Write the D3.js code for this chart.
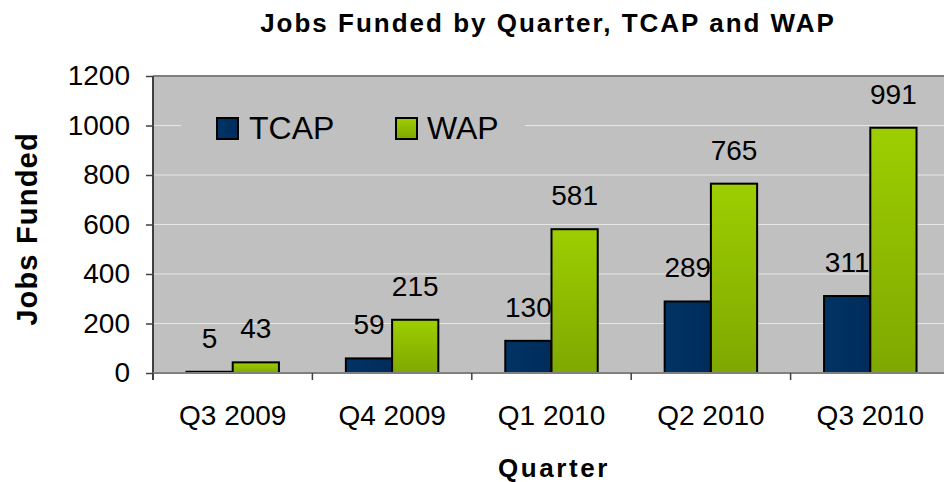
<!DOCTYPE html>
<html>
<head>
<meta charset="utf-8">
<script src="https://cdn.jsdelivr.net/npm/d3@7"></script>
<style>
  html, body { margin: 0; padding: 0; background: #fff; }
  svg { display: block; }
  text { font-family: "Liberation Sans", Arial, Helvetica, sans-serif; fill: #000; }
</style>
</head>
<body>
<svg id="chart" width="944" height="482"></svg>
<script>
const categories = ["Q3 2009", "Q4 2009", "Q1 2010", "Q2 2010", "Q3 2010"];
const seriesNames = ["TCAP", "WAP"];
const tcapValues = [5, 59, 130, 289, 311];
const wapValues = [43, 215, 581, 765, 991];
const yTicks = [0, 200, 400, 600, 800, 1000, 1200];
const titleText = "Jobs Funded by Quarter, TCAP and WAP";
const xTitle = "Quarter";
const yTitle = "Jobs Funded";

const svg = d3.select("#chart");
const plot = { left: 153, right: 950, top: 76, bottom: 373 };

const x0 = d3.scaleBand().domain(categories).range([plot.left, plot.right])
  .paddingInner(0.42).paddingOuter(0.21);
const x1 = d3.scaleBand().domain(seriesNames).range([0, x0.bandwidth()]).padding(0);
const y = d3.scaleLinear().domain([0, 1200]).range([plot.bottom, plot.top]);

const defs = svg.append("defs");
const gW = defs.append("linearGradient").attr("id", "gWAP").attr("x1", 0).attr("y1", 0).attr("x2", 0).attr("y2", 1);
gW.append("stop").attr("offset", "0%").attr("stop-color", "#9dce00");
gW.append("stop").attr("offset", "100%").attr("stop-color", "#7fa800");
const gT = defs.append("linearGradient").attr("id", "gTCAP").attr("x1", 0).attr("y1", 0).attr("x2", 1).attr("y2", 0);
gT.append("stop").attr("offset", "0%").attr("stop-color", "#003466");
gT.append("stop").attr("offset", "100%").attr("stop-color", "#002c5a");
const fills = { TCAP: "url(#gTCAP)", WAP: "url(#gWAP)" };

// plot background
svg.append("rect").attr("x", plot.left).attr("y", plot.top)
  .attr("width", plot.right - plot.left).attr("height", plot.bottom - plot.top)
  .attr("fill", "#c0c0c0");

// gridlines
svg.append("g").selectAll("line").data(yTicks.filter(d => d > 0 && d < 1200)).join("line")
  .attr("x1", plot.left).attr("x2", plot.right)
  .attr("y1", d => y(d)).attr("y2", d => y(d))
  .attr("stroke", "#e6e6e6").attr("stroke-width", 1.2);

// top border
svg.append("line").attr("x1", plot.left).attr("x2", plot.right)
  .attr("y1", plot.top).attr("y2", plot.top).attr("stroke", "#808080").attr("stroke-width", 2);

// legend background (covers gridline)
svg.append("rect").attr("x", 181).attr("y", 106).attr("width", 344).attr("height", 44).attr("fill", "#c0c0c0");

// bars
const data = categories.map((c, i) => ({ cat: c, vals: [
  { s: "TCAP", v: tcapValues[i] }, { s: "WAP", v: wapValues[i] }] }));

const groups = svg.append("g").selectAll("g").data(data).join("g")
  .attr("transform", d => `translate(${x0(d.cat)},0)`);
groups.selectAll("rect").data(d => d.vals).join("rect")
  .attr("x", d => x1(d.s)).attr("width", x1.bandwidth())
  .attr("y", d => y(d.v)).attr("height", d => y(0) - y(d.v))
  .attr("fill", d => fills[d.s]).attr("stroke", "#000").attr("stroke-width", 2);
groups.selectAll("text").data(d => d.vals).join("text")
  .attr("x", d => x1(d.s) + x1.bandwidth() / 2)
  .attr("y", d => y(d.v) - 24)
  .attr("text-anchor", "middle").attr("font-size", 28)
  .text(d => d.v);

// y axis
const yAxis = svg.append("g").attr("transform", `translate(${plot.left},0)`)
  .call(d3.axisLeft(y).tickValues(yTicks).tickSize(7).tickPadding(16).tickFormat(d3.format("d")));
yAxis.select(".domain").attr("stroke", "#404040").attr("stroke-width", 2).attr("d", `M0,${plot.top}V${plot.bottom + 7}`);
yAxis.selectAll(".tick line").attr("stroke", "#404040").attr("stroke-width", 1.5);
yAxis.selectAll(".tick text").attr("font-size", 28).attr("font-family", "Liberation Sans, Arial, sans-serif").attr("fill", "#000");

// x axis
const xAxis = svg.append("g").attr("transform", `translate(0,${plot.bottom})`)
  .call(d3.axisBottom(x0).tickSize(0).tickPadding(0));
xAxis.select(".domain").attr("stroke", "#808080").attr("stroke-width", 2).attr("d", `M${plot.left},0H${plot.right}`);
xAxis.selectAll(".tick text").attr("font-size", 28).attr("font-family", "Liberation Sans, Arial, sans-serif")
  .attr("fill", "#000").attr("dy", null).attr("y", 52);
// category boundary ticks
const step = x0.step();
const bounds = d3.range(categories.length + 1).map(i => plot.left + i * step);
xAxis.append("g").selectAll("line").data(bounds).join("line")
  .attr("x1", d => d).attr("x2", d => d).attr("y1", 0).attr("y2", 7)
  .attr("stroke", "#404040").attr("stroke-width", 1.5);

// legend
const legendPos = [{ s: "TCAP", x: 217, tx: 249 }, { s: "WAP", x: 396, tx: 427 }];
const lg = svg.append("g");
lg.selectAll("rect").data(legendPos).join("rect")
  .attr("x", d => d.x).attr("y", 118).attr("width", 21).attr("height", 21)
  .attr("fill", d => fills[d.s]).attr("stroke", "#000").attr("stroke-width", 2);
lg.selectAll("text").data(legendPos).join("text")
  .attr("x", d => d.tx).attr("y", 139).attr("font-size", 32).text(d => d.s);

// titles
svg.append("text").attr("x", 548).attr("y", 32).attr("text-anchor", "middle")
  .attr("font-size", 26).attr("font-weight", "bold").attr("letter-spacing", 2).text(titleText);
svg.append("text").attr("x", 554).attr("y", 477).attr("text-anchor", "middle")
  .attr("font-size", 26).attr("font-weight", "bold").attr("letter-spacing", 2.6).text(xTitle);
svg.append("text").attr("transform", `translate(37,229) rotate(-90)`).attr("text-anchor", "middle")
  .attr("font-size", 29).attr("font-weight", "bold").attr("letter-spacing", 1.2).text(yTitle);
</script>
</body>
</html>
